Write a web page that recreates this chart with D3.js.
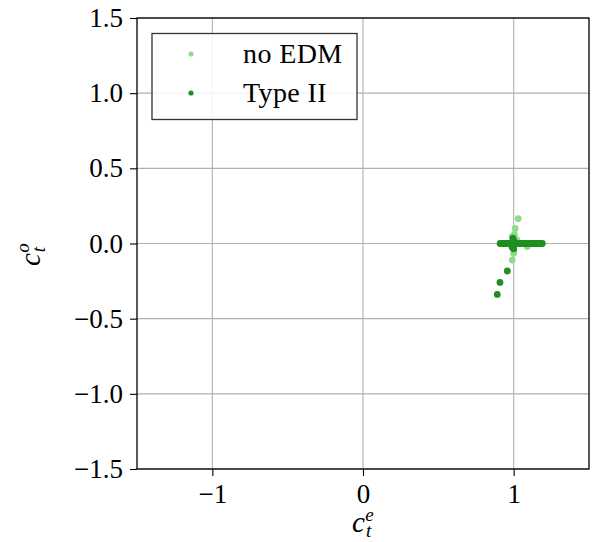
<!DOCTYPE html>
<html><head><meta charset="utf-8">
<script src="https://d3js.org/d3.v7.min.js"></script>
<style>body{margin:0;background:#fff}text{font-family:"Liberation Serif","Times New Roman",serif}</style>
</head><body>
<script>
const seriesNames = ["no EDM", "Type II"];
const seriesColors = ["#8fdc8f", "#1f8f1f"];
const xTicks = [-1, 0, 1];
const yTicks = [-1.5, -1.0, -0.5, 0.0, 0.5, 1.0, 1.5];
// no EDM (light)
const noEdmX = [1.03, 1.01, 0.99, 1.00, 1.02, 1.00, 1.00, 0.99, 1.09, 1.01, 0.995, 1.005];
const noEdmY = [0.165, 0.10, 0.045, 0.03, 0.025, -0.05, -0.065, -0.11, -0.02, 0.01, -0.03, 0.06];
// Type II (dark)
const typeIIX = [0.91, 0.92, 0.93, 0.94, 0.95, 0.96, 0.97, 0.98, 0.99, 1.00, 1.01, 1.02, 1.03, 1.04, 1.05, 1.06, 1.07, 1.08, 1.09, 1.10, 1.11, 1.12, 1.13, 1.14, 1.15, 1.16, 1.17, 1.18, 1.19,
                 0.995, 1.00, 0.995, 1.00, 0.99, 1.00,
                 0.958, 0.909, 0.891];
const typeIIY = [0, 0, 0, 0, 0, 0, 0, 0, 0, 0, 0, 0, 0, 0, 0, 0, 0, 0, 0, 0, 0, 0, 0, 0, 0, 0, 0, 0, 0,
                 0.035, 0.02, 0.01, -0.015, -0.025, -0.035,
                 -0.183, -0.259, -0.339];

const W = 592, H = 542;
const L = 137, R = 589, T = 18, B = 469;
const svg = d3.select("body").append("svg").attr("width", W).attr("height", H);
const x = d3.scaleLinear().domain([-1.5, 1.5]).range([L, R]);
const y = d3.scaleLinear().domain([-1.5, 1.5]).range([B, T]);
const fs = 27;

// grid
svg.append("g").selectAll("line").data(xTicks).join("line")
  .attr("x1", d => x(d)).attr("x2", d => x(d)).attr("y1", T).attr("y2", B)
  .attr("stroke", "#b0b0b0").attr("stroke-width", 1.1);
svg.append("g").selectAll("line").data(yTicks).join("line")
  .attr("x1", L).attr("x2", R).attr("y1", d => y(d)).attr("y2", d => y(d))
  .attr("stroke", "#b0b0b0").attr("stroke-width", 1.1);

const fmtX = d => d < 0 ? "\u2212" + Math.abs(d) : String(d);
const fmtY = d => (d < 0 ? "\u2212" : "") + Math.abs(d).toFixed(1);

const xAxis = svg.append("g").attr("transform", `translate(0,${B})`)
  .call(d3.axisBottom(x).tickValues(xTicks).tickFormat(fmtX).tickSize(7).tickPadding(8));
const yAxis = svg.append("g").attr("transform", `translate(${L},0)`)
  .call(d3.axisLeft(y).tickValues(yTicks).tickFormat(fmtY).tickSize(7).tickPadding(7));
[xAxis, yAxis].forEach(g => {
  g.select(".domain").remove();
  g.selectAll("line").attr("stroke", "#000").attr("stroke-width", 1.1);
  g.selectAll("text").attr("font-size", fs).attr("fill", "#000")
    .style("font-family", '"Liberation Serif", serif');
});

// points
function drawSeries(xs, ys, color) {
  svg.append("g").selectAll("circle").data(xs.map((v, i) => [v, ys[i]])).join("circle")
    .attr("cx", d => x(d[0])).attr("cy", d => y(d[1])).attr("r", 3.4).attr("fill", color);
}
drawSeries(noEdmX, noEdmY, seriesColors[0]);
drawSeries(typeIIX, typeIIY, seriesColors[1]);

// spines
svg.append("rect").attr("x", L).attr("y", T).attr("width", R - L).attr("height", B - T)
  .attr("fill", "none").attr("stroke", "#000").attr("stroke-width", 1.3);

// legend
const lg = svg.append("g");
lg.append("rect").attr("x", 152).attr("y", 33.5).attr("width", 205).attr("height", 86)
  .attr("fill", "#fff").attr("fill-opacity", 0.85).attr("stroke", "#333").attr("stroke-width", 1.3);
seriesNames.forEach((n, i) => {
  const cy = 54 + i * 39;
  lg.append("circle").attr("cx", 191).attr("cy", cy).attr("r", 2.6).attr("fill", seriesColors[i]);
  lg.append("text").attr("x", 243).attr("y", cy + 9).attr("font-size", 28)
    .attr("letter-spacing", 0.4).text(n);
});

// axis labels
function mathLabel(g, sup) {
  const t = g.append("text").attr("font-size", 29);
  t.append("tspan").attr("font-style", "italic").text("c");
  t.append("tspan").attr("font-style", "italic").attr("font-size", 19).attr("dy", 5).attr("dx", 1).text("t");
  t.append("tspan").attr("font-style", "italic").attr("font-size", 19).attr("dy", -16).attr("dx", -6).text(sup);
  return t;
}
const xl = svg.append("g").attr("transform", `translate(352,532)`);
mathLabel(xl, "e");
const yl = svg.append("g").attr("transform", `translate(40,266) rotate(-90)`);
mathLabel(yl, "o");
</script>
</body></html>
